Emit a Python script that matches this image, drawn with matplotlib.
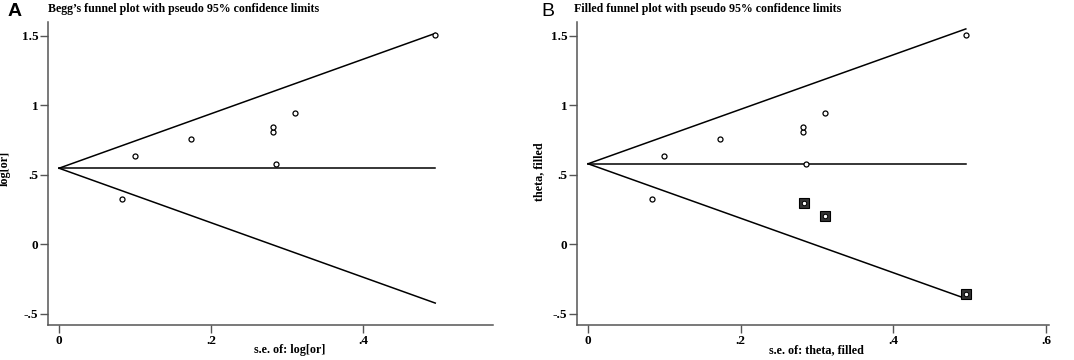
import numpy as np
import matplotlib.pyplot as plt

# study data
se = [0.0833, 0.0996, 0.173, 0.281, 0.282, 0.2855, 0.310, 0.495]
log_or = [0.323, 0.638, 0.758, 0.812, 0.848, 0.578, 0.948, 1.51]

# trim-and-fill imputed studies
se_fill = [0.283, 0.310, 0.495]
theta_fill = [0.298, 0.201, -0.359]

theta_a = 0.548  # pooled estimate, Begg's plot
theta_b = 0.58   # pooled estimate, filled plot
se_max = 0.495

plt.rcParams['font.family'] = 'Liberation Serif'

fig = plt.figure(figsize=(10.74, 3.6), dpi=100)
W, H = 1074, 360


def make_ax(l, r, t, b):
    return fig.add_axes([l / W, 1 - b / H, (r - l) / W, (b - t) / H])


def funnel(ax, theta, xs, ys, xmax, xticks):
    s = np.array([0, se_max])
    ax.plot(s, theta + 1.96 * s, color='black', lw=1.1)
    ax.plot(s, theta - 1.96 * s, color='black', lw=1.1)
    ax.plot(s, [theta, theta], color='black', lw=1.1)
    ax.plot(xs, ys, 'o', ms=3.6, mfc='white', mec='black', mew=0.9, zorder=4)
    ax.set_xlim(-0.0145, xmax)
    ax.set_ylim(-0.58, 1.6)
    ax.set_xticks(xticks)
    ax.set_xticklabels(['0' if v == 0 else ('%.1f' % v).lstrip('0') for v in xticks])
    ax.set_yticks([-0.5, 0, 0.5, 1, 1.5])
    ax.set_yticklabels(['-.5', '0', '.5', '1', '1.5'])
    for sp in ['top', 'right']:
        ax.spines[sp].set_visible(False)
    for sp in ['left', 'bottom']:
        ax.spines[sp].set_color('#555555')
        ax.spines[sp].set_linewidth(1.1)
    ax.tick_params(direction='out', length=5.5, width=1, color='#555555',
                   labelsize=9.5, pad=1.5)
    for lab in ax.get_xticklabels() + ax.get_yticklabels():
        lab.set_fontweight('bold')


# panel A
axA = make_ax(48, 493, 22, 325)
funnel(axA, theta_a, se, log_or, 0.571, [0, 0.2, 0.4])
axA.set_xlabel('s.e. of: log[or]', fontsize=8.7, fontweight='bold')
axA.set_ylabel('log[or]', fontsize=8.7, fontweight='bold')
axA.xaxis.set_label_coords(0.544, -0.063)
axA.yaxis.set_label_coords(-0.083, 0.518)

# panel B
axB = make_ax(577, 1049, 22, 325)
funnel(axB, theta_b, se, log_or, 0.604, [0, 0.2, 0.4, 0.6])
axB.plot(se_fill, theta_fill, 's', ms=7, mfc='#333333', mec='black', mew=0.8, zorder=5)
axB.plot(se_fill, theta_fill, 'o', ms=3.2, mfc='white', mec='black', mew=0.7, zorder=6)
axB.set_xlabel('s.e. of: theta, filled', fontsize=8.7, fontweight='bold')
axB.set_ylabel('theta, filled', fontsize=8.7, fontweight='bold')
axB.xaxis.set_label_coords(0.508, -0.063)
axB.yaxis.set_label_coords(-0.068, 0.505)

fig.text(48 / W, 1 - 9 / H, "Begg\u2019s funnel plot with pseudo 95% confidence limits",
         fontsize=8.6, fontweight='bold', va='center', ha='left')
fig.text(577 / W - 0.003, 1 - 9 / H, "Filled funnel plot with pseudo 95% confidence limits",
         fontsize=8.6, fontweight='bold', va='center', ha='left')
fig.text(8 / W, 1 - 12 / H, 'A', fontsize=14, fontweight='bold', family='Liberation Sans',
         va='center', ha='left')
fig.text(541 / W, 1 - 12 / H, 'B', fontsize=14, family='Liberation Sans',
         va='center', ha='left')

fig.savefig('out.png', dpi=100)
